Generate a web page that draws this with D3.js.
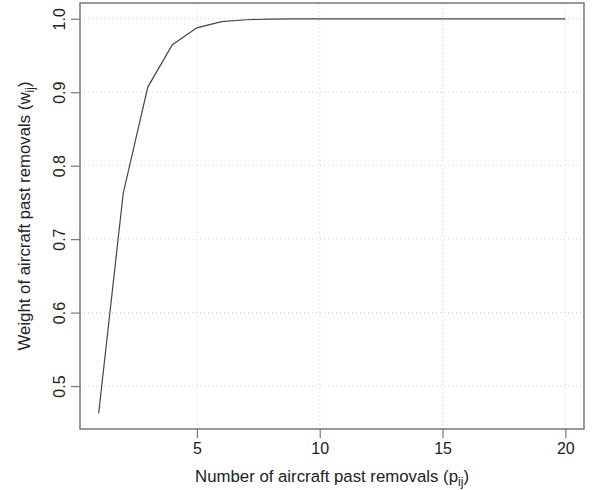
<!DOCTYPE html>
<html>
<head>
<meta charset="utf-8">
<script src="https://cdn.jsdelivr.net/npm/d3@7"></script>
<style>
  body { margin: 0; background: #fff; }
  svg text { font-family: "Liberation Sans", Arial, sans-serif; fill: #222; }
</style>
</head>
<body>
<div id="chart"></div>
<script>
var removals = [1, 2, 3, 4, 5, 6, 7, 8, 9, 10, 11, 12, 13, 14, 15, 16, 17, 18, 19, 20];
var weights = [0.463, 0.7625, 0.907, 0.9646, 0.9877, 0.996, 0.9987, 0.9996, 0.9999, 1, 1, 1, 1, 1, 1, 1, 1, 1, 1, 1];
var xTicks = [5, 10, 15, 20];
var yTicks = [0.5, 0.6, 0.7, 0.8, 0.9, 1.0];

function plot() {
  var width = 592, height = 490;
  var margin = {left: 80, right: 8, top: 3, bottom: 61};

  var svg = d3.select("#chart").append("svg")
    .attr("width", width)
    .attr("height", height);

  // R style: pad data range by 4% each side
  var xr = d3.extent(removals), yr = d3.extent(weights);
  var xp = (xr[1] - xr[0]) * 0.04, yp = (yr[1] - yr[0]) * 0.04;

  var x = d3.scaleLinear()
    .domain([xr[0] - xp, xr[1] + xp])
    .range([margin.left, width - margin.right]);

  var y = d3.scaleLinear()
    .domain([yr[0] - yp, yr[1] + yp])
    .range([height - margin.bottom, margin.top]);

  // dotted grid
  svg.append("g").selectAll("line.gx")
    .data(xTicks).enter().append("line")
    .attr("x1", function(d) { return x(d); })
    .attr("x2", function(d) { return x(d); })
    .attr("y1", y.range()[0]).attr("y2", y.range()[1])
    .attr("stroke", "#d3d3d3").attr("stroke-dasharray", "1,3");

  svg.append("g").selectAll("line.gy")
    .data(yTicks).enter().append("line")
    .attr("y1", function(d) { return y(d); })
    .attr("y2", function(d) { return y(d); })
    .attr("x1", x.range()[0]).attr("x2", x.range()[1])
    .attr("stroke", "#d3d3d3").attr("stroke-dasharray", "1,3");

  // the curve
  var line = d3.line()
    .x(function(d, i) { return x(removals[i]); })
    .y(function(d) { return y(d); });

  svg.append("path")
    .datum(weights)
    .attr("d", line)
    .attr("fill", "none")
    .attr("stroke", "#444")
    .attr("stroke-width", 1.2);

  // axes
  var xAxis = svg.append("g")
    .attr("transform", "translate(0," + y.range()[0] + ")")
    .call(d3.axisBottom(x).tickValues(xTicks).tickSize(9).tickPadding(5).tickSizeOuter(0));
  xAxis.select(".domain").remove();
  xAxis.selectAll("line").attr("stroke", "#777").attr("stroke-width", 1.2);
  xAxis.selectAll("text").style("font-size", "16px").style("fill", "#222");

  var yAxis = svg.append("g")
    .attr("transform", "translate(" + x.range()[0] + ",0)")
    .call(d3.axisLeft(y).tickValues(yTicks).tickFormat(d3.format(".1f")).tickSize(9).tickSizeOuter(0));
  yAxis.select(".domain").remove();
  yAxis.selectAll("line").attr("stroke", "#777").attr("stroke-width", 1.2);
  yAxis.selectAll(".tick text")
    .attr("x", null).attr("y", 0).attr("dy", 0)
    .attr("text-anchor", "middle")
    .attr("transform", "translate(-15,0) rotate(-90)")
    .style("font-size", "16px").style("fill", "#222");

  // box
  svg.append("rect")
    .attr("x", x.range()[0]).attr("y", y.range()[1])
    .attr("width", x.range()[1] - x.range()[0])
    .attr("height", y.range()[0] - y.range()[1])
    .attr("fill", "none").attr("stroke", "#777").attr("stroke-width", 1.5);

  // titles with subscripts
  function title(t, pre, sub) {
    t.attr("text-anchor", "middle").style("font-size", "16.8px").attr("fill", "#222");
    t.append("tspan").text(pre);
    t.append("tspan").text(sub).attr("dy", 4).attr("fill", "#222")
      .style("font-size", "12px").style("fill", "#222");
    t.append("tspan").text(")").attr("dy", -4);
  }

  title(svg.append("text")
    .attr("x", (x.range()[0] + x.range()[1]) / 2)
    .attr("y", 482), "Number of aircraft past removals (p", "ij");

  title(svg.append("text")
    .attr("transform", "translate(30," + (y.range()[0] + y.range()[1]) / 2 + ") rotate(-90)"),
    "Weight of aircraft past removals (w", "ij");
}

plot();
</script>
</body>
</html>
